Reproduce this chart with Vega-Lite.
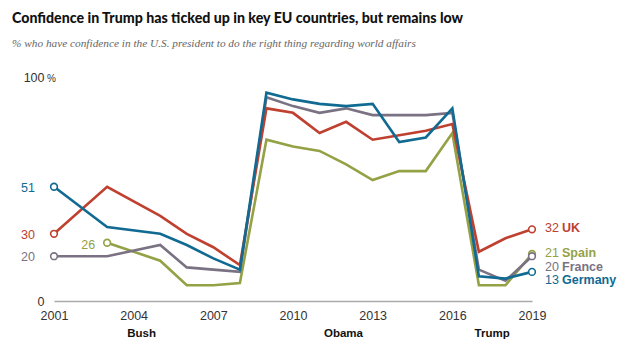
{
  "$schema": "https://vega.github.io/schema/vega-lite/v6.json",
  "width": 478,
  "height": 224,
  "autosize": "none",
  "padding": {"left": 54, "top": 77, "right": 100, "bottom": 51},
  "background": "white",
  "title": {
    "text": "Confidence in Trump has ticked up in key EU countries, but remains low",
    "subtitle": "% who have confidence in the U.S. president to do the right thing regarding world affairs",
    "anchor": "start",
    "frame": "group",
    "dx": -42,
    "offset": 22,
    "font": "Lato",
    "fontSize": 14.2,
    "fontWeight": 900,
    "color": "#111",
    "subtitleFont": "Liberation Serif",
    "subtitleFontStyle": "italic",
    "subtitleFontSize": 11.3,
    "subtitleColor": "#666",
    "subtitlePadding": 12
  },
  "config": {"view": {"stroke": null}, "axis": {"grid": false, "ticks": false}},
  "datasets": {
    "series": [
      {"country": "Spain", "year": 2003, "value": 26},
      {"country": "Spain", "year": 2005, "value": 18},
      {"country": "Spain", "year": 2006, "value": 7},
      {"country": "Spain", "year": 2007, "value": 7},
      {"country": "Spain", "year": 2008, "value": 8},
      {"country": "Spain", "year": 2009, "value": 72},
      {"country": "Spain", "year": 2010, "value": 69},
      {"country": "Spain", "year": 2011, "value": 67},
      {"country": "Spain", "year": 2012, "value": 61},
      {"country": "Spain", "year": 2013, "value": 54},
      {"country": "Spain", "year": 2014, "value": 58},
      {"country": "Spain", "year": 2015, "value": 58},
      {"country": "Spain", "year": 2016, "value": 75},
      {"country": "Spain", "year": 2017, "value": 7},
      {"country": "Spain", "year": 2018, "value": 7},
      {"country": "Spain", "year": 2019, "value": 21},
      {"country": "France", "year": 2001, "value": 20},
      {"country": "France", "year": 2003, "value": 20},
      {"country": "France", "year": 2005, "value": 25},
      {"country": "France", "year": 2006, "value": 15},
      {"country": "France", "year": 2007, "value": 14},
      {"country": "France", "year": 2008, "value": 13},
      {"country": "France", "year": 2009, "value": 91},
      {"country": "France", "year": 2010, "value": 87},
      {"country": "France", "year": 2011, "value": 84},
      {"country": "France", "year": 2012, "value": 86},
      {"country": "France", "year": 2013, "value": 83},
      {"country": "France", "year": 2014, "value": 83},
      {"country": "France", "year": 2015, "value": 83},
      {"country": "France", "year": 2016, "value": 84},
      {"country": "France", "year": 2017, "value": 14},
      {"country": "France", "year": 2018, "value": 9},
      {"country": "France", "year": 2019, "value": 20},
      {"country": "UK", "year": 2001, "value": 30},
      {"country": "UK", "year": 2003, "value": 51},
      {"country": "UK", "year": 2005, "value": 38},
      {"country": "UK", "year": 2006, "value": 30},
      {"country": "UK", "year": 2007, "value": 24},
      {"country": "UK", "year": 2008, "value": 16},
      {"country": "UK", "year": 2009, "value": 86},
      {"country": "UK", "year": 2010, "value": 84},
      {"country": "UK", "year": 2011, "value": 75},
      {"country": "UK", "year": 2012, "value": 80},
      {"country": "UK", "year": 2013, "value": 72},
      {"country": "UK", "year": 2014, "value": 74},
      {"country": "UK", "year": 2015, "value": 76},
      {"country": "UK", "year": 2016, "value": 79},
      {"country": "UK", "year": 2017, "value": 22},
      {"country": "UK", "year": 2018, "value": 28},
      {"country": "UK", "year": 2019, "value": 32},
      {"country": "Germany", "year": 2001, "value": 51},
      {"country": "Germany", "year": 2003, "value": 33},
      {"country": "Germany", "year": 2005, "value": 30},
      {"country": "Germany", "year": 2006, "value": 25},
      {"country": "Germany", "year": 2007, "value": 19},
      {"country": "Germany", "year": 2008, "value": 14},
      {"country": "Germany", "year": 2009, "value": 93},
      {"country": "Germany", "year": 2010, "value": 90},
      {"country": "Germany", "year": 2011, "value": 88},
      {"country": "Germany", "year": 2012, "value": 87},
      {"country": "Germany", "year": 2013, "value": 88},
      {"country": "Germany", "year": 2014, "value": 71},
      {"country": "Germany", "year": 2015, "value": 73},
      {"country": "Germany", "year": 2016, "value": 86},
      {"country": "Germany", "year": 2017, "value": 11},
      {"country": "Germany", "year": 2018, "value": 10},
      {"country": "Germany", "year": 2019, "value": 13}
    ]
  },
  "data": {"name": "series"},
  "encoding": {
    "x": {
      "field": "year",
      "type": "quantitative",
      "scale": {"domain": [2001, 2019], "nice": false, "zero": false},
      "axis": {
        "values": [2001, 2004, 2007, 2010, 2013, 2016, 2019],
        "format": "d",
        "title": null,
        "labelFont": "Liberation Sans",
        "labelFontSize": 12.5,
        "labelColor": "#333",
        "labelPadding": 8,
        "labelFlush": false,
        "domainColor": "#aaa",
        "domainWidth": 1.5,
        "ticks": false
      }
    },
    "y": {
      "field": "value",
      "type": "quantitative",
      "scale": {"domain": [0, 100], "nice": false},
      "axis": {
        "values": [0, 100],
        "title": null,
        "domain": false,
        "ticks": false,
        "labelFont": "Liberation Sans",
        "labelFontSize": 12.5,
        "labelColor": "#333",
        "labelPadding": 10
      }
    },
    "color": {
      "field": "country",
      "type": "nominal",
      "legend": null,
      "scale": {
        "domain": ["UK", "Spain", "France", "Germany"],
        "range": ["#c0402f", "#94a145", "#7a7183", "#116a92"]
      }
    }
  },
  "layer": [
    {"mark": {"type": "line", "strokeWidth": 2.6}},
    {
      "transform": [{"filter": "datum.year == 2019 || (datum.year == 2001) || (datum.country == 'Spain' && datum.year == 2003)"}],
      "mark": {"type": "point", "filled": false, "fill": "white", "fillOpacity": 1, "size": 45, "strokeWidth": 1.6, "opacity": 1}
    },
    {
      "transform": [{"filter": "datum.year == 2001"}],
      "mark": {"type": "text", "align": "right", "dx": -19, "dy": 1, "fontSize": 12.5, "font": "Liberation Sans"},
      "encoding": {"text": {"field": "value", "type": "quantitative"}}
    },
    {
      "transform": [{"filter": "datum.country == 'Spain' && datum.year == 2003"}],
      "mark": {"type": "text", "align": "right", "dx": -12, "dy": 2, "fontSize": 12.5, "font": "Liberation Sans"},
      "encoding": {"text": {"field": "value", "type": "quantitative"}}
    },
    {
      "transform": [{"filter": "datum.year == 2019 && (datum.country == 'UK' || datum.country == 'Spain')"}],
      "mark": {"type": "text", "align": "left", "dx": 13, "dy": -1, "fontSize": 12.5, "font": "Liberation Sans"},
      "encoding": {"text": {"field": "value", "type": "quantitative"}}
    },
    {
      "transform": [{"filter": "datum.year == 2019 && (datum.country == 'UK' || datum.country == 'Spain')"}],
      "mark": {"type": "text", "align": "left", "dx": 30, "dy": -1, "fontSize": 12.5, "fontWeight": "bold", "font": "Liberation Sans"},
      "encoding": {"text": {"field": "country", "type": "nominal"}}
    },
    {
      "transform": [{"filter": "datum.year == 2019 && datum.country == 'France'"}],
      "mark": {"type": "text", "align": "left", "dx": 13, "dy": 11, "fontSize": 12.5, "font": "Liberation Sans"},
      "encoding": {"text": {"field": "value", "type": "quantitative"}}
    },
    {
      "transform": [{"filter": "datum.year == 2019 && datum.country == 'France'"}],
      "mark": {"type": "text", "align": "left", "dx": 30, "dy": 11, "fontSize": 12.5, "fontWeight": "bold", "font": "Liberation Sans"},
      "encoding": {"text": {"field": "country", "type": "nominal"}}
    },
    {
      "transform": [{"filter": "datum.year == 2019 && datum.country == 'Germany'"}],
      "mark": {"type": "text", "align": "left", "dx": 13, "dy": 8, "fontSize": 12.5, "font": "Liberation Sans"},
      "encoding": {"text": {"field": "value", "type": "quantitative"}}
    },
    {
      "transform": [{"filter": "datum.year == 2019 && datum.country == 'Germany'"}],
      "mark": {"type": "text", "align": "left", "dx": 30, "dy": 8, "fontSize": 12.5, "fontWeight": "bold", "font": "Liberation Sans"},
      "encoding": {"text": {"field": "country", "type": "nominal"}}
    },
    {
      "data": {"values": [{"year": 2001, "value": 100}]},
      "mark": {"type": "text", "text": "%", "align": "left", "dx": -7, "dy": 2, "fontSize": 10, "font": "Liberation Sans", "color": "#333"},
      "encoding": {"color": null}
    },
    {
      "data": {"values": [
        {"president": "Bush", "year": 2004.3, "value": 0},
        {"president": "Obama", "year": 2011.9, "value": 0},
        {"president": "Trump", "year": 2017.5, "value": 0}
      ]},
      "mark": {"type": "text", "fontWeight": "bold", "fontSize": 11.5, "font": "Liberation Sans", "dy": 33, "color": "#111"},
      "encoding": {"text": {"field": "president", "type": "nominal"}, "color": null}
    }
  ]
}
